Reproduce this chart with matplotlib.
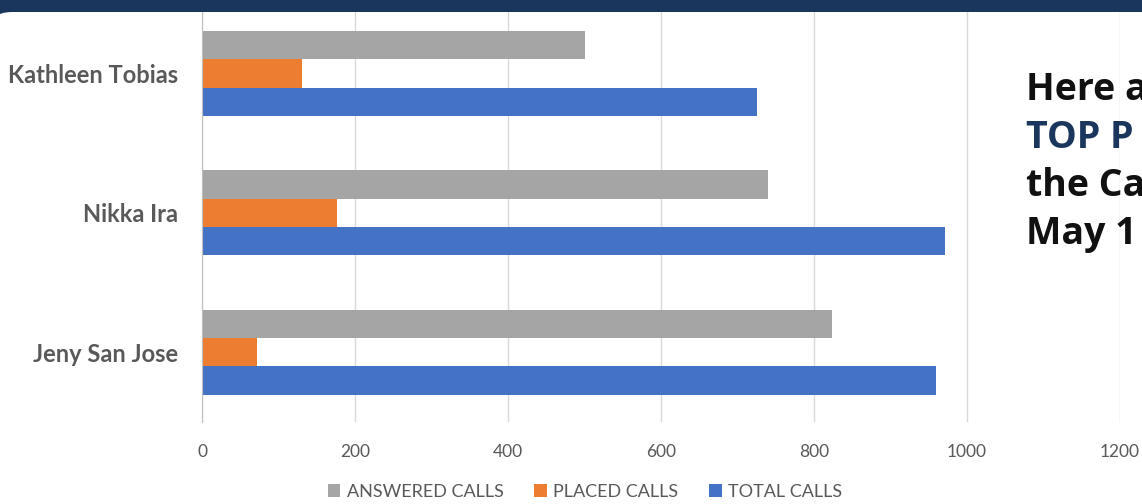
import matplotlib.pyplot as plt
import numpy as np
from matplotlib.patches import Rectangle, FancyBboxPatch
from matplotlib.transforms import IdentityTransform

# data
agents = ['Jeny San Jose', 'Nikka Ira', 'Kathleen Tobias']
answered = [823, 740, 500]
placed = [72, 176, 131]
total = [960, 971, 725]
series_names = ['ANSWERED CALLS', 'PLACED CALLS', 'TOTAL CALLS']
side_lines = ['Here a', 'TOP P', 'the Ca', 'May 1']

navy = '#1b365d'
c_ans, c_pla, c_tot = '#a5a5a5', '#ed7d31', '#4472c4'
txt = '#595959'

W, H = 1142, 504
fig = plt.figure(figsize=(W / 100, H / 100), dpi=100)
fig.patch.set_facecolor('white')

# header band + white panel with rounded corner (pixel coords)
fig.patches.append(Rectangle((0, H - 40), W, 40, transform=IdentityTransform(),
                             facecolor=navy, edgecolor='none', zorder=-3))
fig.patches.append(FancyBboxPatch((-13, -60), W + 80, H - 12 + 60,
                                  boxstyle='round,pad=0,rounding_size=25',
                                  transform=IdentityTransform(),
                                  facecolor='white', edgecolor='none', zorder=-2))

ax = fig.add_axes([202 / W, (H - 422) / H, (1120 - 202) / W, (422 - 12) / H])
ax.set_facecolor('none')

y = np.arange(len(agents))
h = 0.204
ax.barh(y + h, answered, height=h, color=c_ans, label=series_names[0], zorder=3)
ax.barh(y, placed, height=h, color=c_pla, label=series_names[1], zorder=3)
ax.barh(y - h, total, height=h, color=c_tot, label=series_names[2], zorder=3)

ax.set_xlim(0, 1200)
ax.set_ylim(-0.5, 2.44)
ax.set_xticks(np.arange(0, 1201, 200))
ax.set_yticks(y)
ax.set_yticklabels(agents, fontfamily='Lato', fontweight='bold', fontsize=17, color=txt)
ax.grid(axis='x', color='#d9d9d9', linewidth=1, zorder=0)
ax.tick_params(axis='y', length=0, pad=17)
ax.tick_params(axis='x', length=0, pad=16, labelsize=12.5, labelcolor=txt)
for lb in ax.get_xticklabels():
    lb.set_fontfamily('Lato')
for s in ['top', 'right', 'bottom']:
    ax.spines[s].set_visible(False)
ax.spines['left'].set_color('#bfbfbf')
ax.spines['left'].set_zorder(4)

leg = fig.legend(loc='center', bbox_to_anchor=(585 / W, (H - 492) / H), ncol=3,
                 frameon=False, handlelength=0.7, handleheight=0.7, handletextpad=0.35,
                 columnspacing=1.7, prop={'family': 'Lato', 'size': 13})
for t in leg.get_texts():
    t.set_color(txt)

# side caption, cut off by the right edge as in the source
colors = ['#111111', navy, '#111111', '#111111']
for i, (line, col) in enumerate(zip(side_lines, colors)):
    fig.text(1026 / W, (H - 100 - 48 * i) / H, line, fontsize=27, fontweight='bold',
             family='Open Sans', color=col, va='baseline', ha='left')

fig.savefig('out.png', dpi=100)
